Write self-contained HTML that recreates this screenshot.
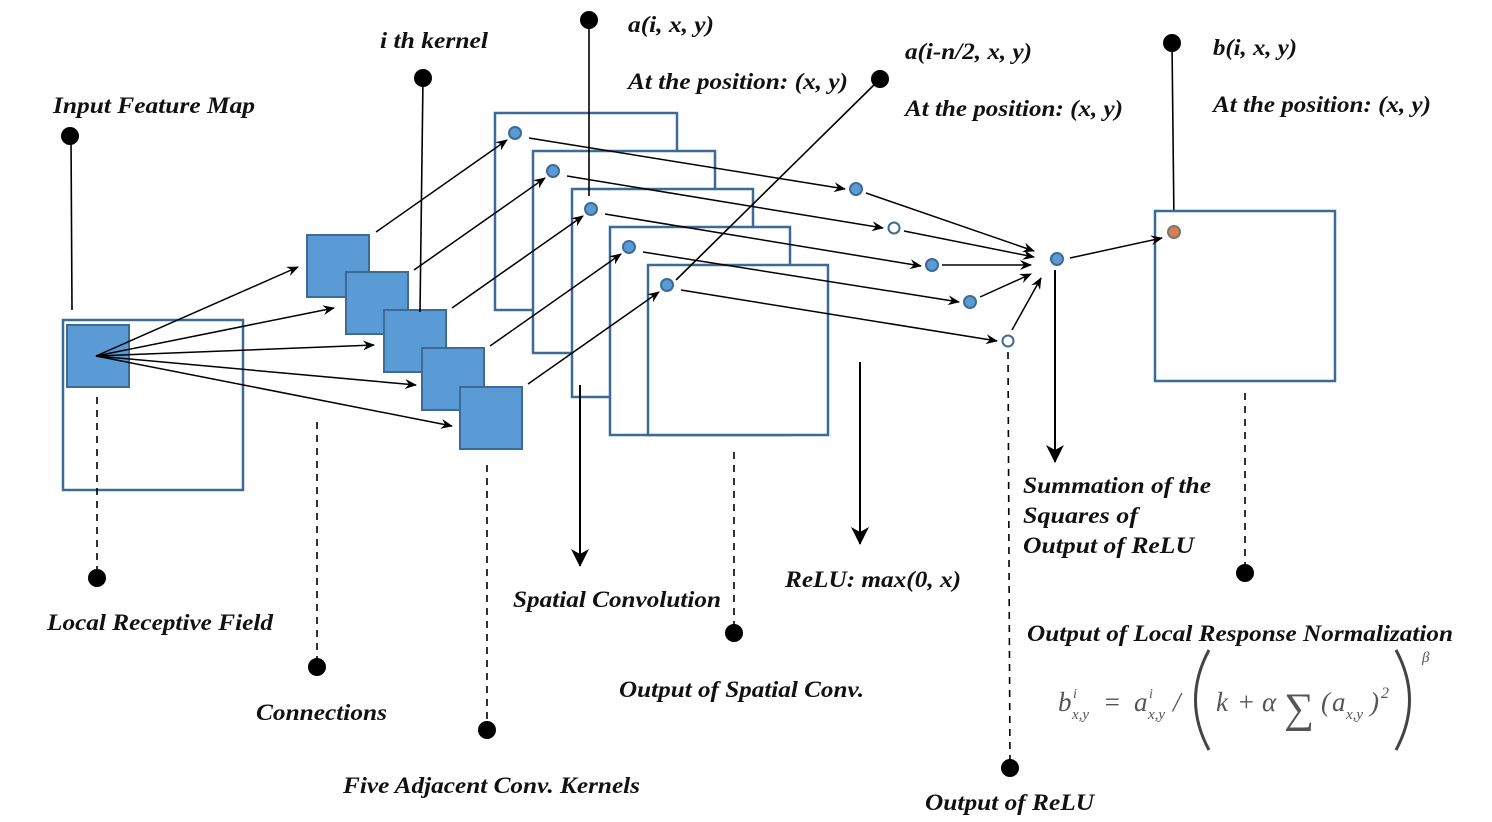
<!DOCTYPE html>
<html><head><meta charset="utf-8"><style>
html,body{margin:0;padding:0;background:#fff;}
svg{display:block;}
.t{font-family:"Liberation Serif",serif;font-weight:bold;font-style:italic;font-size:23px;fill:#111;}
.f{font-family:"Liberation Serif",serif;font-style:italic;fill:#555;}
</style></head><body>
<svg width="1492" height="822" viewBox="0 0 1492 822" xmlns="http://www.w3.org/2000/svg">
<defs>
<marker id="a" markerWidth="12" markerHeight="10" refX="11" refY="5" orient="auto" markerUnits="userSpaceOnUse">
<path d="M0,0 L12,5 L0,10 L4,5 z" fill="#000"/></marker>
<marker id="b" markerWidth="18" markerHeight="18" refX="17" refY="9" orient="auto" markerUnits="userSpaceOnUse">
<path d="M0,0 L18,9 L0,18 L5,9 z" fill="#000"/></marker>
</defs>
<g fill="none" stroke="#000" stroke-width="1.6">
<line x1="71" y1="136" x2="72" y2="310"/>
<line x1="1172" y1="43" x2="1174" y2="224"/>
</g>
<rect x="63" y="320" width="180" height="170" fill="#fff" stroke="#3d6a96" stroke-width="2.5"/>
<rect x="67" y="325" width="62" height="62" fill="#5b9bd5" stroke="#3d6a96" stroke-width="2"/>
<g fill="#5b9bd5" stroke="#3d6a96" stroke-width="2">
<rect x="307" y="235" width="62" height="62"/>
<rect x="346" y="272" width="62" height="62"/>
<rect x="384" y="310" width="62" height="62"/>
<rect x="422" y="348" width="62" height="62"/>
<rect x="460" y="387" width="62" height="62"/>
</g>
<g fill="#fff" stroke="#3d6a96" stroke-width="2.5">
<rect x="495" y="113" width="182" height="197"/>
<rect x="533" y="151" width="182" height="202"/>
<rect x="572" y="189" width="181" height="208"/>
<rect x="610" y="227" width="180" height="208"/>
<rect x="648" y="265" width="180" height="170"/>
<rect x="1155" y="211" width="180" height="170"/>
</g>
<line x1="423" y1="78" x2="420" y2="312" stroke="#000" stroke-width="1.6"/>
<line x1="589" y1="20" x2="589" y2="196" stroke="#000" stroke-width="1.6"/>
<line x1="880" y1="79" x2="676" y2="280" stroke="#000" stroke-width="1.6"/>
<g fill="none" stroke="#000" stroke-width="1.5" marker-end="url(#a)">
<line x1="96" y1="356" x2="298" y2="267"/>
<line x1="96" y1="356" x2="334" y2="308"/>
<line x1="96" y1="356" x2="374" y2="345"/>
<line x1="96" y1="356" x2="416" y2="385"/>
<line x1="96" y1="356" x2="452" y2="426"/>
<line x1="376" y1="232" x2="507" y2="140"/>
<line x1="414" y1="270" x2="545" y2="178"/>
<line x1="452" y1="308" x2="583" y2="216"/>
<line x1="490" y1="346" x2="621" y2="254"/>
<line x1="528" y1="384" x2="659" y2="292"/>
<line x1="529" y1="138" x2="845" y2="189"/>
<line x1="567" y1="176" x2="883" y2="228"/>
<line x1="605" y1="214" x2="921" y2="266"/>
<line x1="643" y1="252" x2="959" y2="302"/>
<line x1="681" y1="290" x2="997" y2="341"/>
<line x1="866" y1="193" x2="1034" y2="251"/>
<line x1="904" y1="231" x2="1034" y2="257"/>
<line x1="942" y1="265" x2="1031" y2="265"/>
<line x1="980" y1="297" x2="1031" y2="274"/>
<line x1="1012" y1="330" x2="1041" y2="278"/>
<line x1="1070" y1="258" x2="1162" y2="238"/>
</g>
<g stroke="#000" stroke-width="2" marker-end="url(#b)">
<line x1="580" y1="385" x2="580" y2="566"/>
<line x1="860" y1="362" x2="860" y2="544"/>
<line x1="1055" y1="270" x2="1055" y2="462"/>
</g>
<g stroke="#000" stroke-width="1.6" stroke-dasharray="7,6">
<line x1="97" y1="397" x2="97" y2="578"/>
<line x1="317" y1="422" x2="317" y2="667"/>
<line x1="487" y1="465" x2="487" y2="730"/>
<line x1="734" y1="452" x2="734" y2="633"/>
<line x1="1008" y1="352" x2="1010" y2="768"/>
<line x1="1245" y1="393" x2="1245" y2="573"/>
</g>
<g fill="#000">
<circle cx="70" cy="136" r="9"/><circle cx="423" cy="78" r="9"/><circle cx="589" cy="20" r="9"/>
<circle cx="880" cy="79" r="9"/><circle cx="1172" cy="43" r="9"/>
<circle cx="97" cy="578" r="9"/><circle cx="317" cy="667" r="9"/><circle cx="487" cy="730" r="9"/>
<circle cx="734" cy="633" r="9"/><circle cx="1010" cy="768" r="9"/><circle cx="1245" cy="573" r="9"/>
</g>
<g fill="#5b9bd5" stroke="#3d6a96" stroke-width="2">
<circle cx="515" cy="133" r="6"/><circle cx="553" cy="171" r="6"/><circle cx="591" cy="209" r="6"/>
<circle cx="629" cy="247" r="6"/><circle cx="667" cy="285" r="6"/>
<circle cx="856" cy="189" r="6"/><circle cx="932" cy="265" r="6"/><circle cx="970" cy="302" r="6"/>
<circle cx="1057" cy="259" r="6"/>
<circle cx="894" cy="228" r="5.5" fill="#fff"/><circle cx="1008" cy="341" r="5.5" fill="#fff"/>
<circle cx="1174" cy="232" r="6" fill="#d9804a" stroke="#777"/>
</g>
<g class="t" lengthAdjust="spacingAndGlyphs">
<text class="t" x="53" y="113" textLength="202" lengthAdjust="spacingAndGlyphs">Input Feature Map</text>
<text class="t" x="380" y="48" textLength="108" lengthAdjust="spacingAndGlyphs">i th kernel</text>
<text class="t" x="628" y="32" textLength="86" lengthAdjust="spacingAndGlyphs">a(i, x, y)</text>
<text class="t" x="628" y="89" textLength="220" lengthAdjust="spacingAndGlyphs">At the position: (x, y)</text>
<text class="t" x="905" y="59" textLength="127" lengthAdjust="spacingAndGlyphs">a(i-n/2, x, y)</text>
<text class="t" x="905" y="116" textLength="218" lengthAdjust="spacingAndGlyphs">At the position: (x, y)</text>
<text class="t" x="1213" y="55" textLength="84" lengthAdjust="spacingAndGlyphs">b(i, x, y)</text>
<text class="t" x="1213" y="112" textLength="218" lengthAdjust="spacingAndGlyphs">At the position: (x, y)</text>
<text class="t" x="47" y="630" textLength="226" lengthAdjust="spacingAndGlyphs">Local Receptive Field</text>
<text class="t" x="256" y="720" textLength="131" lengthAdjust="spacingAndGlyphs">Connections</text>
<text class="t" x="343" y="793" textLength="297" lengthAdjust="spacingAndGlyphs">Five Adjacent Conv. Kernels</text>
<text class="t" x="513" y="607" textLength="208" lengthAdjust="spacingAndGlyphs">Spatial Convolution</text>
<text class="t" x="619" y="697" textLength="245" lengthAdjust="spacingAndGlyphs">Output of Spatial Conv.</text>
<text class="t" x="785" y="587" textLength="176" lengthAdjust="spacingAndGlyphs">ReLU: max(0, x)</text>
<text class="t" x="1023" y="493" textLength="188" lengthAdjust="spacingAndGlyphs">Summation of the</text>
<text class="t" x="1023" y="523" textLength="115" lengthAdjust="spacingAndGlyphs">Squares of</text>
<text class="t" x="1023" y="553" textLength="171" lengthAdjust="spacingAndGlyphs">Output of ReLU</text>
<text class="t" x="1027" y="641" textLength="426" lengthAdjust="spacingAndGlyphs">Output of Local Response Normalization</text>
<text class="t" x="925" y="810" textLength="169" lengthAdjust="spacingAndGlyphs">Output of ReLU</text>
</g>
<text class="f" x="1058" y="711" font-size="27">b</text>
<text class="f" x="1073" y="698" font-size="14">i</text>
<text class="f" x="1072" y="719" font-size="15">x,y</text>
<text class="f" x="1103" y="711" font-size="27" font-style="normal">=</text>
<text class="f" x="1134" y="711" font-size="27">a</text>
<text class="f" x="1149" y="698" font-size="14">i</text>
<text class="f" x="1148" y="719" font-size="15">x,y</text>
<text class="f" x="1173" y="711" font-size="27" font-style="normal">/</text>
<path d="M1209,650 Q1182,700 1209,750" fill="none" stroke="#444" stroke-width="3"/>
<text class="f" x="1216" y="711" font-size="27">k</text>
<text class="f" x="1237" y="711" font-size="27" font-style="normal">+</text>
<text class="f" x="1262" y="711" font-size="27">α</text>
<text class="f" x="1284" y="722" font-size="42" font-style="normal">∑</text>
<text class="f" x="1321" y="711" font-size="27" font-style="normal">(</text>
<text class="f" x="1332" y="711" font-size="27">a</text>
<text class="f" x="1346" y="719" font-size="15">x,y</text>
<text class="f" x="1370" y="711" font-size="27" font-style="normal">)</text>
<text class="f" x="1381" y="698" font-size="16" font-style="normal">2</text>
<path d="M1396,650 Q1423,700 1396,750" fill="none" stroke="#444" stroke-width="3"/>
<text class="f" x="1422" y="662" font-size="15">β</text>
</svg>
</body></html>
